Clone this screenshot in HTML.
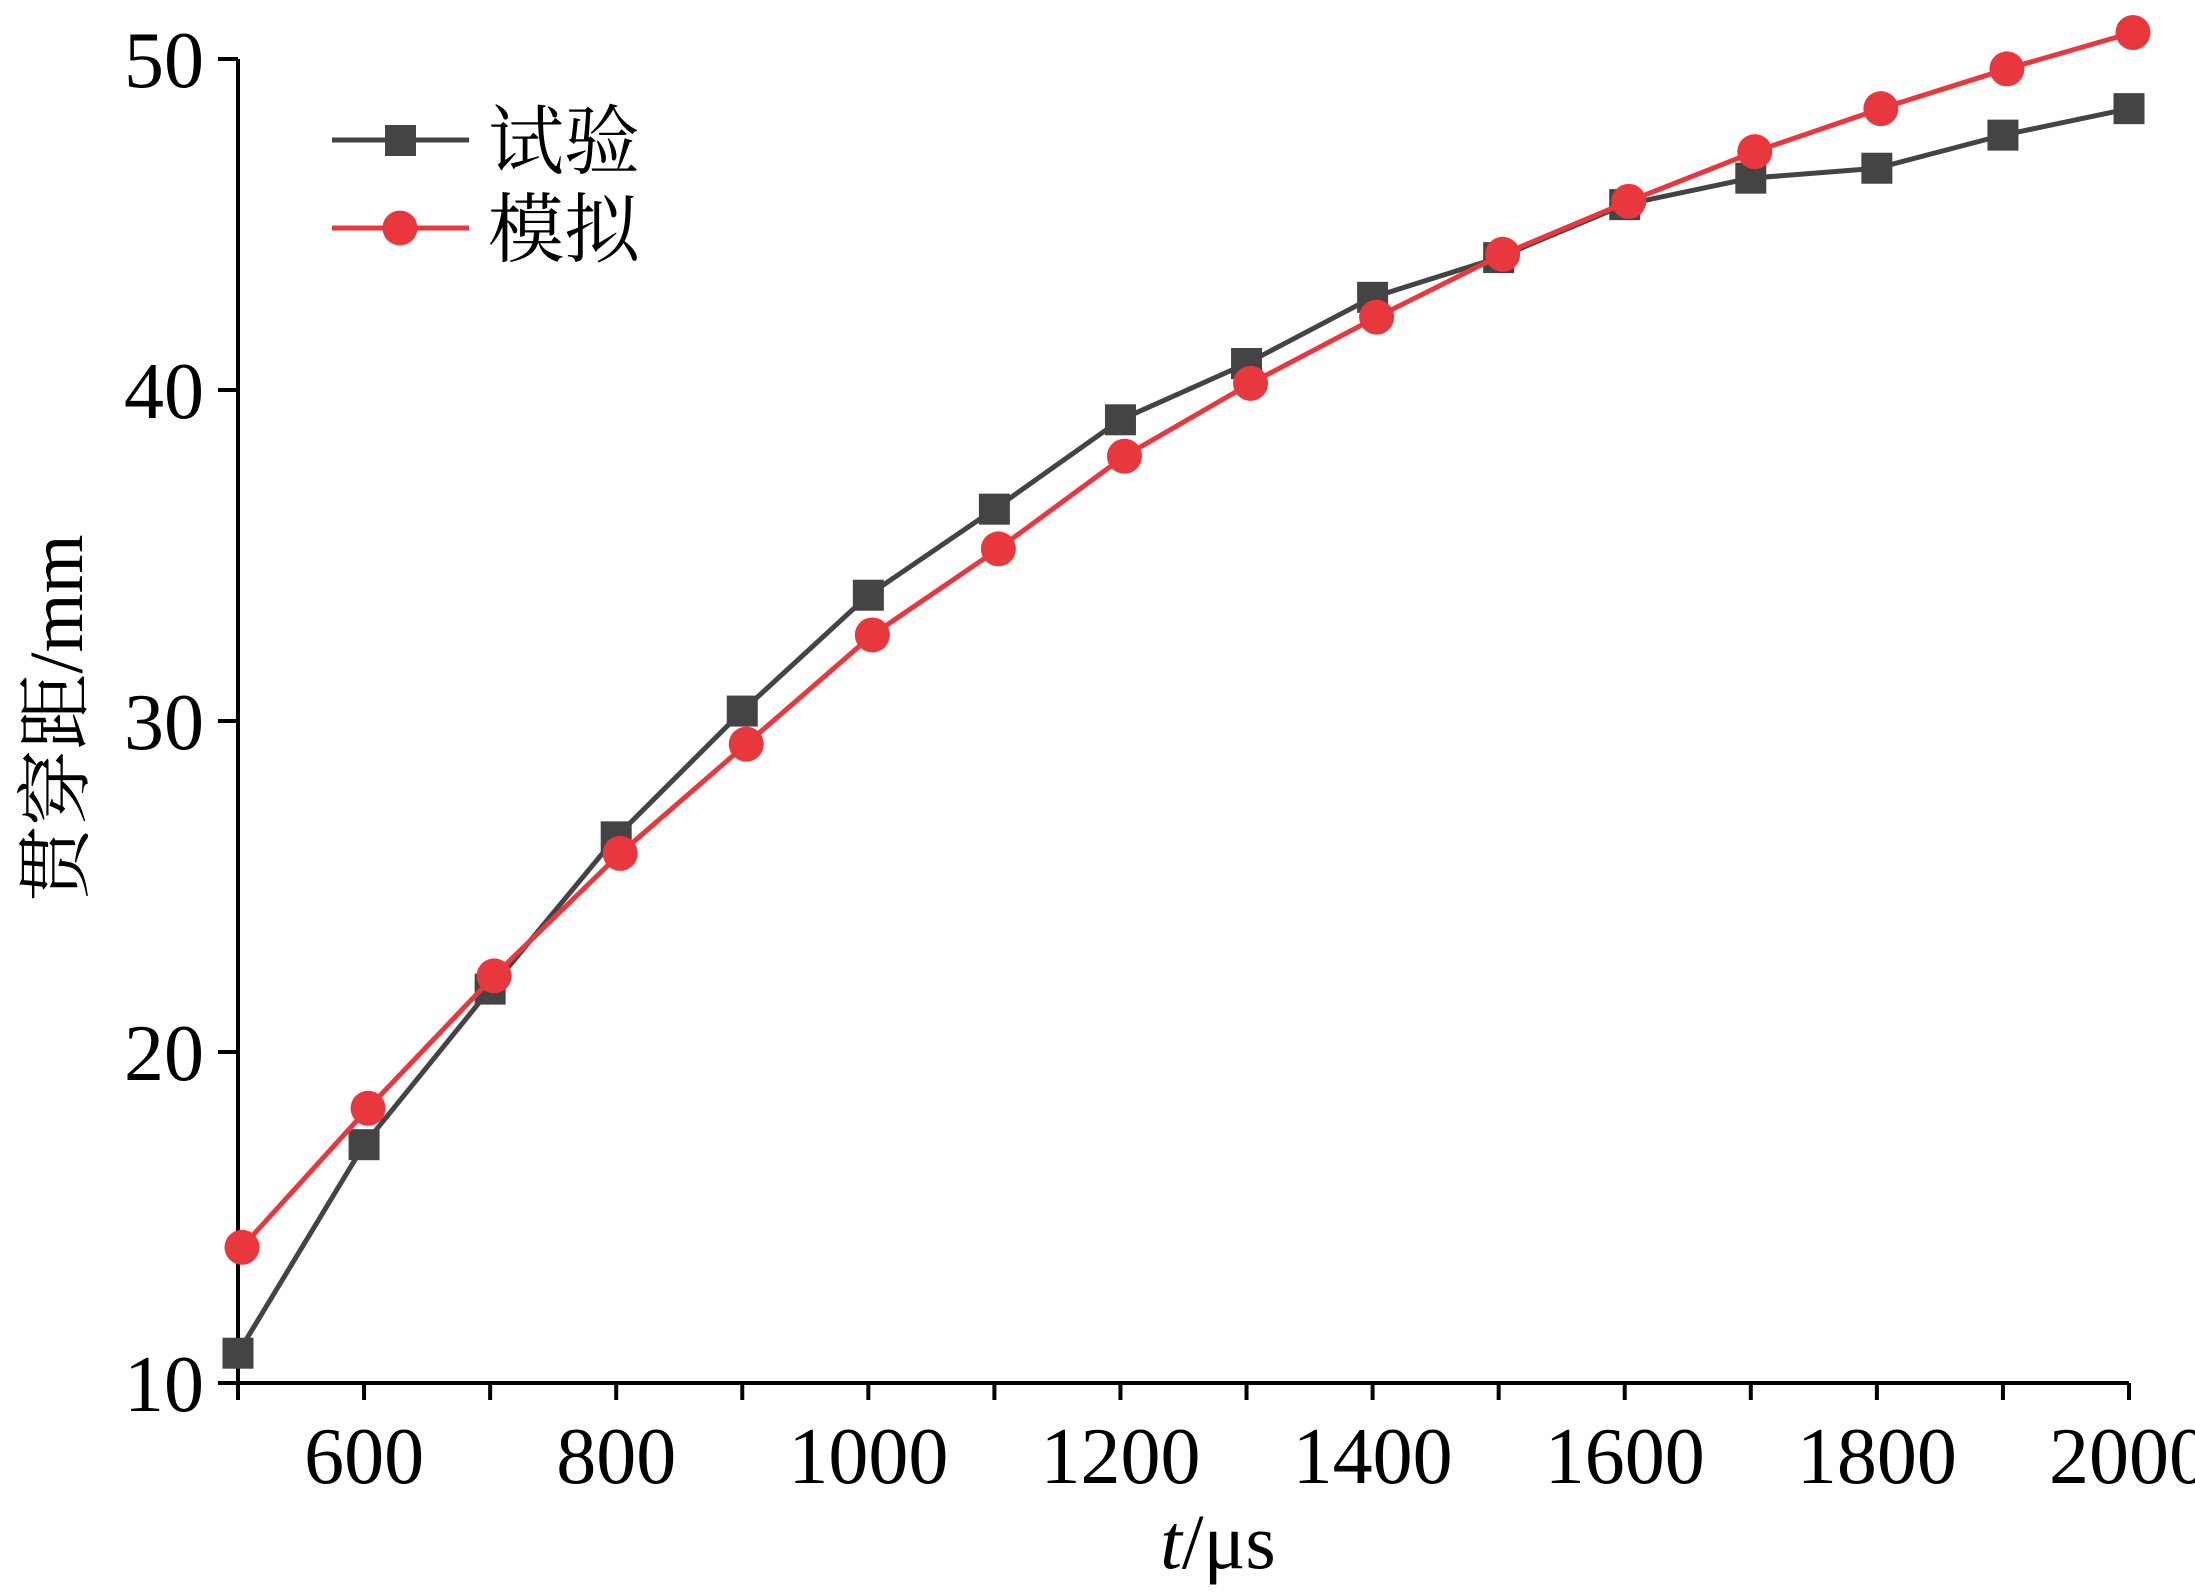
<!DOCTYPE html>
<html><head><meta charset="utf-8"><style>
html,body{margin:0;padding:0;background:#fff}
svg{display:block}
text{font-family:"Liberation Serif","Noto Serif CJK SC",serif;fill:#000}
</style></head><body>
<svg id="chart" width="2195" height="1592" viewBox="0 0 2195 1592">
<g id="axes"></g><g id="series"></g>
<g>
<line x1="332" y1="140" x2="469" y2="140" stroke="#444" stroke-width="5"/>
<rect x="385" y="125" width="31" height="31" fill="#444"/>
<text x="488" y="168" font-size="76" font-family="'Noto Serif CJK SC',serif">试验</text>
<line x1="332" y1="228" x2="469" y2="228" stroke="#e8383d" stroke-width="5"/>
<circle cx="400" cy="228" r="17.5" fill="#e8383d"/>
<text x="488" y="256" font-size="76" font-family="'Noto Serif CJK SC',serif">模拟</text>
</g>
<text x="1218" y="1568" font-size="78" text-anchor="middle"><tspan font-style="italic">t</tspan>/μs</text>
<text transform="translate(82,718) rotate(-90)" font-size="76" text-anchor="middle" font-family="'Liberation Serif','Noto Serif CJK SC',serif">贯穿距/mm</text>
</svg>
<script>
const times=[500,600,700,800,900,1000,1100,1200,1300,1400,1500,1600,1700,1800,1900,2000];
const trial=[10.9,17.2,21.9,26.5,30.3,33.8,36.4,39.1,40.8,42.8,44.0,45.6,46.4,46.7,47.7,48.5];
const sim=[14.1,18.3,22.3,26.0,29.3,32.6,35.2,38.0,40.2,42.2,44.1,45.7,47.2,48.5,49.7,50.8];
const xTicks=[600,800,1000,1200,1400,1600,1800,2000];
const yTicks=[10,20,30,40,50];
const NS="http://www.w3.org/2000/svg";
const X0=238,X1=2129,Y0=1383,Y1=59;
const xs=v=>X0+(v-500)/1500*(X1-X0);
const ys=v=>Y0-(v-10)/40*(Y0-Y1);
function mk(t,a,p){const e=document.createElementNS(NS,t);for(const k in a)e.setAttribute(k,a[k]);p.appendChild(e);return e;}
const ax=document.getElementById('axes'),se=document.getElementById('series');
let e=mk('line',{x1:X0,y1:Y1,x2:X0,y2:Y0+2,stroke:'#000','stroke-width':4},ax);


e=mk('line',{x1:X0-2,y1:Y0,x2:X1,y2:Y0,stroke:'#000','stroke-width':4},ax);


for(let v=500;v<=2000;v+=100){e=mk('line',{x1:xs(v),y1:Y0,x2:xs(v),y2:Y0+17,stroke:'#000','stroke-width':4},ax);

}
xTicks.forEach(v=>{e=mk('text',{x:xs(v),y:Y0+100,'font-size':80,'text-anchor':'middle'},ax);e.textContent=v;

});
yTicks.forEach(v=>{e=mk('line',{x1:X0-20,y1:ys(v),x2:X0,y2:ys(v),stroke:'#000','stroke-width':4},ax);


e=mk('text',{x:X0-34,y:ys(v)+28,'font-size':80,'text-anchor':'end'},ax);e.textContent=v;

});
function series(vals,col,name,circ,dx){
 e=mk('polyline',{points:vals.map((v,i)=>(xs(times[i])+dx)+','+ys(v)).join(' '),fill:'none',stroke:col,'stroke-width':5},se);
 
 
 vals.forEach((v,i)=>{const cx=xs(times[i])+dx,cy=ys(v);
  if(circ)e=mk('circle',{cx:cx,cy:cy,r:17.5,fill:col},se);
  else e=mk('rect',{x:cx-15.5,y:cy-15.5,width:31,height:31,fill:col},se);
  
  });
}
series(trial,'#444','trial',false,0);
series(sim,'#e8383d','sim',true,4);
</script>
</body></html>
